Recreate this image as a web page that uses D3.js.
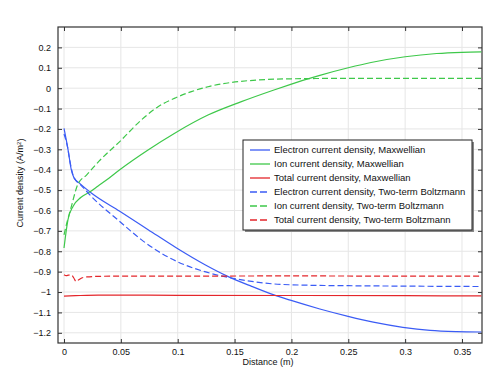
<!DOCTYPE html>
<html>
<head>
<meta charset="utf-8">
<script src="https://cdn.jsdelivr.net/npm/d3@7"></script>
<style>
  body { margin: 0; background: #fff; }
  text { font-family: "Liberation Sans", Arial, sans-serif; }
</style>
</head>
<body>
<div id="chart"></div>
<script>
// Electron current density, Maxwellian
const elecMaxX = [0, 0.0035, 0.0064, 0.0088, 0.0138, 0.024, 0.049, 0.074, 0.099, 0.124, 0.144, 0.165, 0.184, 0.199, 0.225, 0.249, 0.272, 0.298, 0.322, 0.345, 0.367];
const elecMaxY = [-0.197, -0.30, -0.40, -0.44, -0.467, -0.514, -0.604, -0.694, -0.784, -0.866, -0.923, -0.972, -1.013, -1.04, -1.083, -1.118, -1.148, -1.173, -1.188, -1.194, -1.196];

// Ion current density, Maxwellian
const ionMaxX = [0, 0.0035, 0.0079, 0.015, 0.024, 0.030, 0.037, 0.049, 0.0739, 0.097, 0.1266, 0.156, 0.184, 0.2, 0.21, 0.225, 0.25, 0.27, 0.3, 0.3277, 0.35, 0.367];
const ionMaxY = [-0.784, -0.645, -0.58, -0.535, -0.505, -0.48, -0.452, -0.40, -0.303, -0.222, -0.132, -0.066, -0.01, 0.02, 0.038, 0.063, 0.100, 0.126, 0.154, 0.170, 0.176, 0.178];

// Total current density, Maxwellian
const totMaxX = [0, 0.01, 0.02, 0.03, 0.1, 0.2, 0.3, 0.367];
const totMaxY = [-1.02, -1.018, -1.016, -1.015, -1.016, -1.017, -1.018, -1.019];

// Electron current density, Two-term Boltzmann
const elecBolX = [0, 0.0035, 0.005, 0.0079, 0.0108, 0.0138, 0.024, 0.049, 0.068, 0.0827, 0.100, 0.1207, 0.1442, 0.165, 0.184, 0.21, 0.25, 0.3, 0.367];
const elecBolY = [-0.225, -0.30, -0.352, -0.426, -0.455, -0.47, -0.531, -0.654, -0.743, -0.80, -0.852, -0.895, -0.928, -0.948, -0.96, -0.966, -0.969, -0.971, -0.973];

// Ion current density, Two-term Boltzmann
const ionBolX = [0, 0.003, 0.006, 0.0123, 0.02, 0.031, 0.049, 0.068, 0.0827, 0.097, 0.112, 0.1266, 0.147, 0.1706, 0.2, 0.25, 0.3, 0.367];
const ionBolY = [-0.72, -0.65, -0.59, -0.47, -0.425, -0.357, -0.262, -0.156, -0.091, -0.05, -0.017, 0.007, 0.028, 0.040, 0.046, 0.048, 0.048, 0.048];

// Total current density, Two-term Boltzmann
const totBolX = [0, 0.002, 0.004, 0.0065, 0.0085, 0.0105, 0.013, 0.016, 0.02, 0.03, 0.05, 0.1, 0.2, 0.3, 0.367];
const totBolY = [-0.915, -0.92, -0.917, -0.916, -0.93, -0.948, -0.94, -0.93, -0.926, -0.923, -0.922, -0.922, -0.921, -0.922, -0.922];

const xTicks = [0, 0.05, 0.1, 0.15, 0.2, 0.25, 0.3, 0.35];
const yTicks = [0.2, 0.1, 0, -0.1, -0.2, -0.3, -0.4, -0.5, -0.6, -0.7, -0.8, -0.9, -1, -1.1, -1.2];

const seriesNames = [
  "Electron current density, Maxwellian",
  "Ion current density, Maxwellian",
  "Total current density, Maxwellian",
  "Electron current density, Two-term Boltzmann",
  "Ion current density, Two-term Boltzmann",
  "Total current density, Two-term Boltzmann"
];

const blue = "#3b5cf5", green = "#3ec84a", red = "#e4262b";
const series = [
  { name: seriesNames[0], xs: elecMaxX, ys: elecMaxY, color: blue, dash: null },
  { name: seriesNames[1], xs: ionMaxX, ys: ionMaxY, color: green, dash: null },
  { name: seriesNames[2], xs: totMaxX, ys: totMaxY, color: red, dash: null },
  { name: seriesNames[3], xs: elecBolX, ys: elecBolY, color: blue, dash: "6,3" },
  { name: seriesNames[4], xs: ionBolX, ys: ionBolY, color: green, dash: "6,3" },
  { name: seriesNames[5], xs: totBolX, ys: totBolY, color: red, dash: "6,3" }
];

const W = 498, H = 378;
const margin = { top: 27, right: 16, bottom: 35, left: 58 };
const width = W - margin.left - margin.right;
const height = H - margin.top - margin.bottom;

const svg = d3.select("#chart").append("svg")
  .attr("width", W).attr("height", H)
  .append("g")
  .attr("transform", `translate(${margin.left},${margin.top})`);

const x = d3.scaleLinear().domain([-0.00528, 0.3676]).range([0, width]);
const y = d3.scaleLinear().domain([-1.25, 0.3]).range([height, 0]);

// grid
svg.append("g").selectAll("line").data(xTicks).enter().append("line")
  .attr("x1", d => x(d)).attr("x2", d => x(d))
  .attr("y1", 0).attr("y2", height)
  .attr("stroke", "#e6e6e6").attr("stroke-width", 1);
svg.append("g").selectAll("line").data(yTicks).enter().append("line")
  .attr("x1", 0).attr("x2", width)
  .attr("y1", d => y(d)).attr("y2", d => y(d))
  .attr("stroke", "#e6e6e6").attr("stroke-width", 1);

// axes, ticks pointing inward
const fmt = d => d3.format("")(+d.toFixed(2));
const axB = svg.append("g").attr("transform", `translate(0,${height})`)
  .call(d3.axisBottom(x).tickValues(xTicks).tickSizeInner(-4).tickSizeOuter(0).tickPadding(6).tickFormat(fmt));
const axL = svg.append("g")
  .call(d3.axisLeft(y).tickValues(yTicks).tickSizeInner(-4).tickSizeOuter(0).tickPadding(7).tickFormat(fmt));
const axT = svg.append("g")
  .call(d3.axisTop(x).tickValues(xTicks).tickSizeInner(-4).tickSizeOuter(0).tickFormat(""));
const axR = svg.append("g").attr("transform", `translate(${width},0)`)
  .call(d3.axisRight(y).tickValues(yTicks).tickSizeInner(-4).tickSizeOuter(0).tickFormat(""));
[axB, axL, axT, axR].forEach(a => {
  a.select(".domain").remove();
  a.selectAll("line").attr("stroke", "#333");
  a.selectAll("text").style("font-size", "9px").attr("fill", "#111");
});

// frame
svg.append("rect")
  .attr("x", 0).attr("y", 0).attr("width", width).attr("height", height)
  .attr("fill", "none").attr("stroke", "#333").attr("stroke-width", 1.2);

// curves
const line = d3.line()
  .x(d => x(d[0])).y(d => y(d[1]))
  .curve(d3.curveMonotoneX);
const plot = svg.append("g");
series.forEach(s => {
  plot.append("path")
    .datum(s.xs.map((v, i) => [v, s.ys[i]]))
    .attr("fill", "none")
    .attr("stroke", s.color)
    .attr("stroke-width", 1.2)
    .attr("stroke-dasharray", s.dash)
    .attr("d", line);
});

// legend
const lg = svg.append("g").attr("transform", `translate(${243 - margin.left},${140 - margin.top})`);
lg.append("rect").attr("x", 2).attr("y", 2).attr("width", 229).attr("height", 90).attr("fill", "#888");
lg.append("rect").attr("x", 0).attr("y", 0).attr("width", 229).attr("height", 90)
  .attr("fill", "#fff").attr("stroke", "#222").attr("stroke-width", 1);
series.forEach((s, i) => {
  const yy = 10 + i * 14;
  lg.append("line").attr("x1", 7).attr("x2", 27).attr("y1", yy).attr("y2", yy)
    .attr("stroke", s.color).attr("stroke-width", 1.3)
    .attr("stroke-dasharray", s.dash ? "7,3" : null);
  lg.append("text").attr("x", 31).attr("y", yy).attr("dy", "0.35em")
    .style("font-size", "9.5px").attr("fill", "#111").text(s.name);
});

// axis titles
svg.append("text")
  .attr("x", width / 2 - 2).attr("y", height + 22)
  .attr("text-anchor", "middle").style("font-size", "9px").attr("fill", "#111")
  .text("Distance (m)");
const yl = svg.append("text")
  .attr("transform", `translate(${20 - margin.left},${183 - margin.top}) rotate(-90)`)
  .attr("text-anchor", "middle").attr("dy", "0.35em")
  .style("font-size", "9px").attr("fill", "#111");
yl.append("tspan").text("Current density (A/m");
yl.append("tspan").attr("dy", "-0.4em").style("font-size", "6px").text("2");
yl.append("tspan").attr("dy", "0.4em").text(")");
</script>
</body>
</html>
